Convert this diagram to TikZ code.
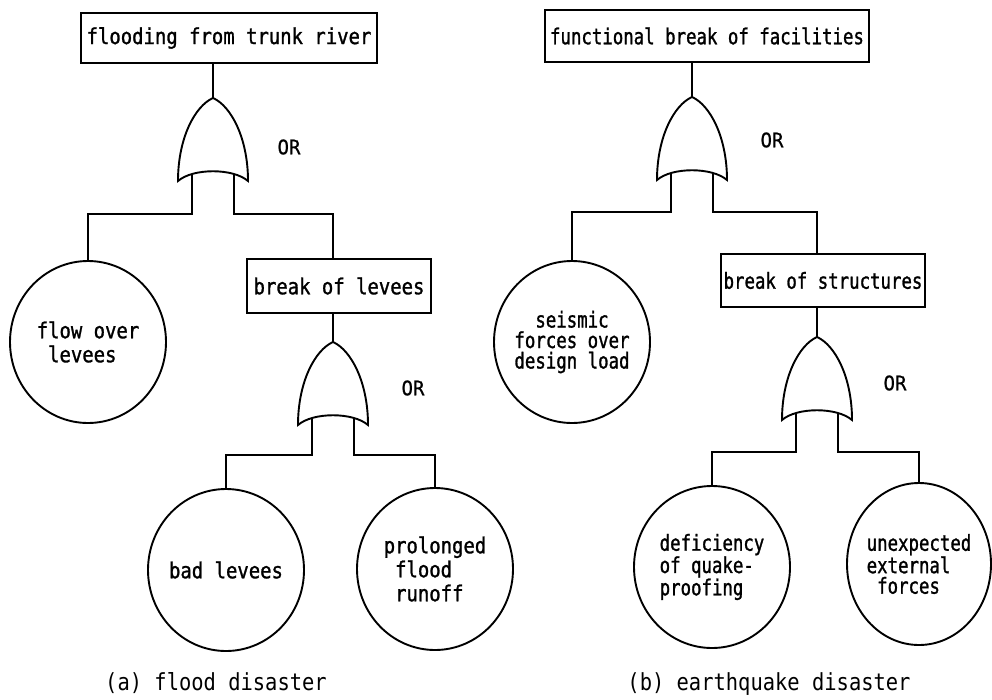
\documentclass[tikz,border=0pt]{standalone}
\usepackage{fontspec}
\usetikzlibrary{shapes.geometric}
\newfontfamily\lfont[FakeStretch=0.86,FakeBold=1.2]{DejaVu Sans Mono}
\newfontfamily\rfont[FakeStretch=0.79,FakeBold=1.2]{DejaVu Sans Mono}
\newfontfamily\ofont[FakeStretch=0.95,FakeBold=0.8]{DejaVu Sans Mono}
\newfontfamily\cfont[FakeStretch=0.87]{DejaVu Sans Mono}
\begin{document}
\begin{tikzpicture}[x=1pt,y=-1pt, line width=1.9pt,
  evbox/.style={draw, rectangle, inner sep=0pt},
  event/.style={draw, ellipse, inner sep=-20pt, minimum width=156pt, minimum height=162pt},
  ltext/.style={font=\lfont\fontsize{22}{24}\selectfont},
  rtext/.style={font=\rfont\fontsize{22}{20.5}\selectfont},
  ortext/.style={font=\ofont\fontsize{20}{22}\selectfont},
  captext/.style={font=\cfont\fontsize{23.5}{26}\selectfont},
  orgate/.pic={
    \draw (0,0) .. controls (-18,8) and (-35,40) .. (-35,83)
          .. controls (-20,70) and (20,70) .. (35,83)
          .. controls (35,40) and (18,8) .. (0,0) -- cycle;
    \coordinate (apex) at (0,0);
    \coordinate (legl) at (-21,76);
    \coordinate (legr) at (21,76);
  }]
\useasboundingbox (0,0) rectangle (992,699);

% ---------- (a) flood disaster ----------
\node[evbox, ltext, minimum width=296pt, minimum height=50pt] (A) at (229,38) {flooding from trunk river};
\pic (g1) at (213,98) {orgate};
\node[ortext] (or1) at (289,147) {OR};
\coordinate (j1) at (0,214);
\node[event, ltext, align=left] (C1) at (88,342) {flow over\\\phantom{s}levees};
\node[evbox, ltext, minimum width=184pt, minimum height=54pt] (B) at (339,286) {break of levees};
\pic (g2) at (333,342) {orgate};
\node[ortext] (or2) at (413,388) {OR};
\coordinate (j2) at (0,455);
\node[event, ltext, align=left] (C2) at (226,570) {bad levees};
\node[event, ltext, align=left] (C3) at (435,569) {prolonged\\\phantom{s}flood\\\phantom{s}runoff};
\node[captext] (capa) at (216,683) {(a) flood disaster};

\draw (A.south -| g1apex) -- (g1apex);
\draw (g1legl) -- (g1legl |- j1) -| (C1.north);
\draw (g1legr) -- (g1legr |- j1) -| (B.north -| g2apex);
\draw (B.south -| g2apex) -- (g2apex);
\draw (g2legl) -- (g2legl |- j2) -| (C2.north);
\draw (g2legr) -- (g2legr |- j2) -| (C3.north);

% ---------- (b) earthquake disaster ----------
\node[evbox, rtext, minimum width=324pt, minimum height=52pt] (D) at (707,36) {functional break of facilities};
\pic (g3) at (692,97) {orgate};
\node[ortext] (or3) at (772,140) {OR};
\coordinate (j3) at (0,212);
\node[event, rtext, align=left] (C4) at (572,342) {\phantom{ss}seismic\\forces over\\design load};
\node[evbox, rtext, minimum width=204pt, minimum height=53pt] (E) at (823,280.5) {break of structures};
\pic (g4) at (817,337) {orgate};
\node[ortext] (or4) at (895,383) {OR};
\coordinate (j4) at (0,452);
\node[event, rtext, align=left] (C5) at (712,567) {deficiency\\of quake-\\proofing};
\node[event, rtext, align=left, minimum width=144pt] (C6) at (919,564) {unexpected\\external\\\phantom{s}forces};
\node[captext] (capb) at (769,684) {(b) earthquake disaster};

\draw (D.south -| g3apex) -- (g3apex);
\draw (g3legl) -- (g3legl |- j3) -| (C4.north);
\draw (g3legr) -- (g3legr |- j3) -| (E.north -| g4apex);
\draw (E.south -| g4apex) -- (g4apex);
\draw (g4legl) -- (g4legl |- j4) -| (C5.north);
\draw (g4legr) -- (g4legr |- j4) -| (C6.north);
\end{tikzpicture}
\end{document}
